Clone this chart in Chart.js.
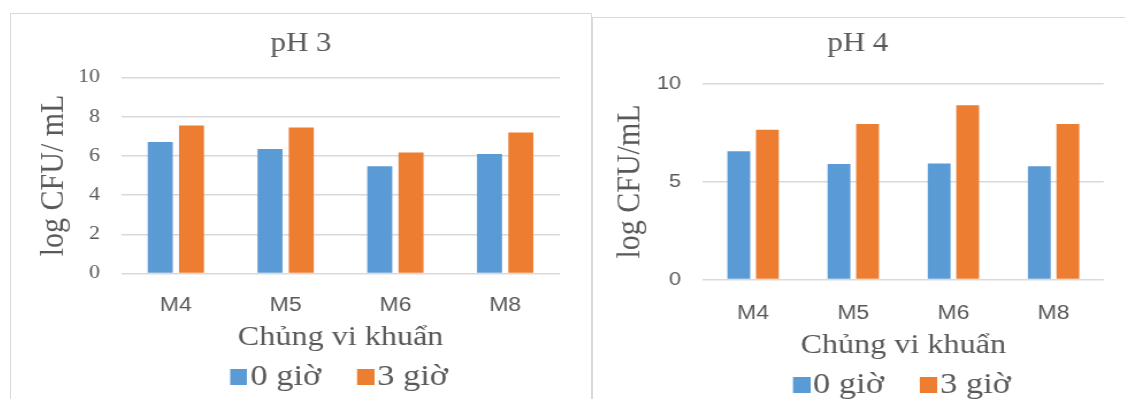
<!DOCTYPE html>
<html>
<head>
<meta charset="utf-8">
<script src="https://cdn.jsdelivr.net/npm/chart.js@4"></script>
<style>
  body { margin: 0; background: #fff; width: 1125px; height: 399px; overflow: hidden; position: relative; }
  .frame { position: absolute; border: 1px solid #d9d9d9; box-sizing: border-box; }
  /* the source picture is a little wider than tall, so the charts are stretched the same way */
  .wrap { position: absolute; transform: scaleX(1.15); transform-origin: 0 0; }
</style>
</head>
<body>
<div class="frame" style="left:10px;top:13px;width:582px;height:420px"></div>
<div class="frame" style="left:592px;top:17px;width:560px;height:420px"></div>
<div class="wrap" style="left:10px;top:13px"><canvas id="ph3" width="506" height="389"></canvas></div>
<div class="wrap" style="left:591px;top:17px"><canvas id="ph4" width="464" height="393"></canvas></div>

<script>
const strains = ['M4', 'M5', 'M6', 'M8'];
const seriesNames = ['0 giờ', '3 giờ'];
const seriesColors = ['#5b9bd5', '#ed7d31'];

// log CFU/mL
const ph3Hour0 = [6.70, 6.34, 5.46, 6.09];
const ph3Hour3 = [7.54, 7.44, 6.17, 7.19];
const ph4Hour0 = [6.54, 5.89, 5.92, 5.78];
const ph4Hour3 = [7.64, 7.93, 8.89, 7.93];

const yMax = 10;
const ph3Step = 2;
const ph4Step = 5;

const textColor = '#595959';
const gridColor = '#d9d9d9';
const serif = '"Liberation Serif", "Times New Roman", serif';
const sans = '"Liberation Sans", Arial, sans-serif';

// legend marker: square on the right half of a wider transparent canvas,
// so it ends up right next to the label text like in Excel
function swatch(color) {
  const c = document.createElement('canvas');
  c.width = 25;
  c.height = 16;
  const g = c.getContext('2d');
  g.fillStyle = color;
  g.fillRect(10, 0, 15, 16);
  return c;
}

function makeChart(id, cfg) {
  const ctx = document.getElementById(id).getContext('2d');
  return new Chart(ctx, {
    type: 'bar',
    data: {
      labels: strains,
      datasets: [
        { label: seriesNames[0], data: cfg.hour0, backgroundColor: seriesColors[0], pointStyle: swatch(seriesColors[0]) },
        { label: seriesNames[1], data: cfg.hour3, backgroundColor: seriesColors[1], pointStyle: swatch(seriesColors[1]) }
      ]
    },
    options: {
      responsive: false,
      animation: false,
      categoryPercentage: 0.57,
      barPercentage: 0.8,
      plugins: {
        title: {
          display: true,
          text: cfg.title,
          color: textColor,
          font: { family: serif, size: 27, weight: 'normal' },
          padding: cfg.titlePad
        },
        legend: {
          position: 'bottom',
          fullSize: false,
          labels: {
            color: textColor,
            font: { family: serif, size: 30 },
            usePointStyle: true,
            pointStyleWidth: 0.01,
            boxHeight: 16,
            padding: 33.6
          }
        },
        tooltip: { enabled: false }
      },
      scales: {
        x: {
          grid: { display: false },
          border: { display: false },
          ticks: { color: textColor, font: { family: sans, size: 20 }, padding: cfg.xTickPad },
          title: {
            display: true,
            text: 'Chủng vi khuẩn',
            color: textColor,
            font: { family: serif, size: 28 },
            padding: { top: 0, bottom: cfg.xTitlePad }
          },
          afterFit: s => { s.height = cfg.xHeight; }
        },
        y: {
          min: 0,
          max: yMax,
          ticks: {
            stepSize: cfg.step,
            color: textColor,
            font: cfg.yTickFont,
            padding: cfg.yTickPad
          },
          grid: { color: gridColor, lineWidth: 1.5, drawTicks: false },
          border: { display: false },
          title: {
            display: true,
            text: cfg.yTitle,
            color: textColor,
            font: { family: serif, size: 30 },
            padding: { top: cfg.yTitlePad, bottom: 0 }
          },
          afterFit: s => { s.width = cfg.yWidth; }
        },
        // empty right-hand axis, only keeps the margin so the title stays centred on the whole box
        right: {
          position: 'right',
          grid: { display: false },
          border: { display: false },
          ticks: { display: false },
          afterFit: s => { s.width = cfg.padRight; }
        }
      }
    }
  });
}

makeChart('ph3', {
  title: 'pH 3',
  hour0: ph3Hour0,
  hour3: ph3Hour3,
  step: ph3Step,
  padRight: 27.7,
  titlePad: { top: 14.8, bottom: 17.1 },
  xHeight: 54.9,
  xTickPad: 12,
  xTitlePad: -25.9,
  yWidth: 96.5,
  yTickPad: 18.2,
  yTickFont: { family: serif, size: 19 },
  yTitle: 'log CFU/ mL',
  yTitlePad: 20.3
});

makeChart('ph4', {
  title: 'pH 4',
  hour0: ph4Hour0,
  hour3: ph4Hour3,
  step: ph4Step,
  padRight: 18.2,
  titlePad: { top: 10.8, bottom: 23.3 },
  xHeight: 56.9,
  xTickPad: 14,
  xTitlePad: -26.4,
  yWidth: 97.4,
  yTickPad: 19.1,
  yTickFont: { family: sans, size: 19 },
  yTitle: 'log CFU/mL',
  yTitlePad: 15.9
});
</script>
</body>
</html>
